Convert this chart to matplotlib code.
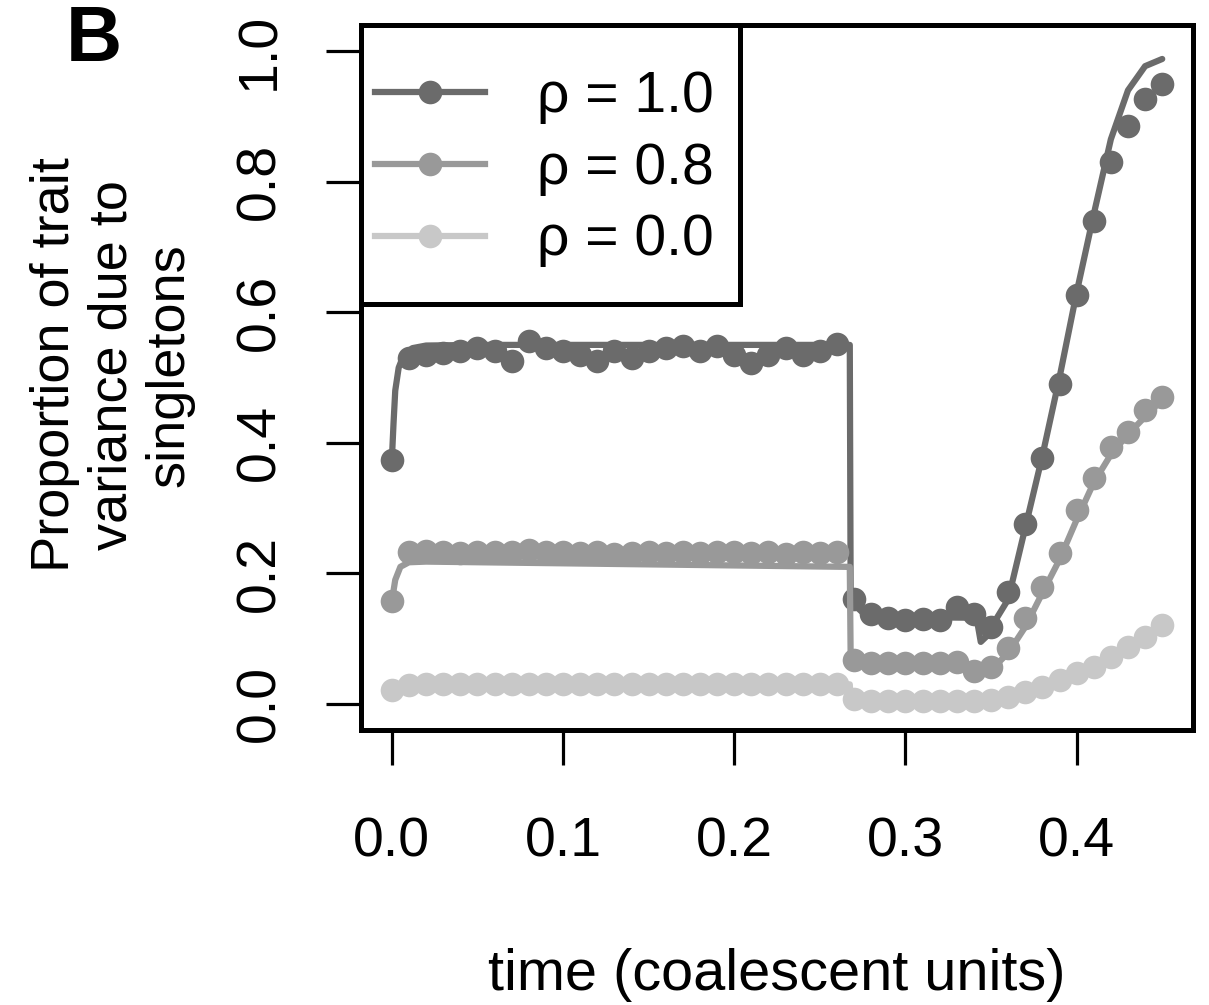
import matplotlib
matplotlib.use("Agg")
import matplotlib.pyplot as plt
from matplotlib.lines import Line2D
from matplotlib.patches import Rectangle

plt.rcParams['font.family'] = ['Liberation Sans', 'DejaVu Sans']

# simulation time points (coalescent units)
t_points = [0.00, 0.01, 0.02, 0.03, 0.04, 0.05, 0.06, 0.07, 0.08, 0.09,
            0.10, 0.11, 0.12, 0.13, 0.14, 0.15, 0.16, 0.17, 0.18, 0.19,
            0.20, 0.21, 0.22, 0.23, 0.24, 0.25, 0.26, 0.27, 0.28, 0.29,
            0.30, 0.31, 0.32, 0.33, 0.34, 0.35, 0.36, 0.37, 0.38, 0.39,
            0.40, 0.41, 0.42, 0.43, 0.44, 0.45]

# simulated proportions (dots)
sim_rho10 = [0.373, 0.530, 0.535, 0.538, 0.540, 0.545, 0.540, 0.525, 0.556, 0.545,
             0.540, 0.535, 0.525, 0.540, 0.530, 0.540, 0.545, 0.549, 0.540, 0.548,
             0.535, 0.522, 0.535, 0.545, 0.535, 0.540, 0.552, 0.160, 0.137, 0.132,
             0.128, 0.130, 0.128, 0.148, 0.138, 0.118, 0.171, 0.275, 0.376, 0.490,
             0.627, 0.740, 0.830, 0.885, 0.926, 0.949]
sim_rho08 = [0.157, 0.232, 0.234, 0.232, 0.231, 0.232, 0.233, 0.232, 0.236, 0.233,
             0.232, 0.231, 0.232, 0.230, 0.231, 0.232, 0.231, 0.232, 0.231, 0.232,
             0.233, 0.231, 0.232, 0.230, 0.232, 0.231, 0.233, 0.067, 0.063, 0.062,
             0.063, 0.062, 0.063, 0.064, 0.050, 0.057, 0.086, 0.132, 0.179, 0.231,
             0.297, 0.346, 0.394, 0.417, 0.450, 0.470]
sim_rho00 = [0.021, 0.029, 0.030, 0.030, 0.030, 0.030, 0.030, 0.030, 0.030, 0.030,
             0.030, 0.030, 0.030, 0.030, 0.030, 0.030, 0.030, 0.030, 0.030, 0.030,
             0.030, 0.030, 0.030, 0.030, 0.030, 0.030, 0.031, 0.008, 0.005, 0.005,
             0.005, 0.005, 0.005, 0.005, 0.005, 0.006, 0.011, 0.018, 0.026, 0.037,
             0.047, 0.057, 0.072, 0.087, 0.102, 0.121]

# theoretical curves (lines)
t_th10 = [0.0, 0.001, 0.002, 0.004, 0.007, 0.012, 0.02, 0.05, 0.265, 0.2675,
          0.268, 0.27, 0.275, 0.285, 0.30, 0.34, 0.342, 0.344, 0.348, 0.353,
          0.36, 0.37, 0.38, 0.39, 0.40, 0.41, 0.42, 0.43, 0.44, 0.45]
th_rho10 = [0.373, 0.43, 0.48, 0.515, 0.535, 0.545, 0.549, 0.550, 0.550, 0.550,
            0.17, 0.152, 0.140, 0.135, 0.133, 0.132, 0.125, 0.095, 0.105, 0.13,
            0.16, 0.27, 0.38, 0.50, 0.63, 0.75, 0.865, 0.94, 0.977, 0.988]
t_th08 = [0.0, 0.002, 0.005, 0.01, 0.02, 0.265, 0.2675, 0.268, 0.27, 0.34,
          0.345, 0.35, 0.36, 0.37, 0.38, 0.39, 0.40, 0.41, 0.42, 0.43, 0.44, 0.45]
th_rho08 = [0.157, 0.19, 0.21, 0.217, 0.218, 0.210, 0.210, 0.075, 0.063, 0.060,
            0.050, 0.052, 0.078, 0.118, 0.170, 0.221, 0.282, 0.339, 0.382, 0.413,
            0.440, 0.466]
t_th00 = [0.0, 0.005, 0.01, 0.2675, 0.268, 0.35, 0.36, 0.37, 0.38, 0.39,
          0.40, 0.41, 0.42, 0.43, 0.44, 0.45]
th_rho00 = [0.021, 0.028, 0.030, 0.030, 0.005, 0.006, 0.010, 0.017, 0.025, 0.036,
            0.046, 0.057, 0.071, 0.086, 0.102, 0.120]

labels = ["\u03c1 = 1.0", "\u03c1 = 0.8", "\u03c1 = 0.0"]
colors = ["#6b6b6b", "#999999", "#c8c8c8"]

fig = plt.figure(figsize=(12.09, 10.05), dpi=100)
ax = fig.add_axes([0.2986, 0.2736, 0.6882, 0.7015])

series = [(t_th10, th_rho10, sim_rho10), (t_th08, th_rho08, sim_rho08),
          (t_th00, th_rho00, sim_rho00)]
for (tt, th, sim), c in zip(series, colors):
    ax.plot(t_points, sim, 'o', color=c, ms=17, mec='none')
    ax.plot(tt, th, '-', color=c, lw=4.5, solid_capstyle='round')

ax.set_xlim(-0.018, 0.468)
ax.set_ylim(-0.04, 1.04)
ax.set_xticks([0.0, 0.1, 0.2, 0.3, 0.4], labels=["0.0", "0.1", "0.2", "0.3", "0.4"])
ax.set_yticks([0.0, 0.2, 0.4, 0.6, 0.8, 1.0],
              labels=["0.0", "0.2", "0.4", "0.6", "0.8", "1.0"],
              rotation=90, va='center')
ax.tick_params(axis='both', direction='out', length=25, width=2.3,
               labelsize=40, color='black')
ax.tick_params(axis='x', pad=37)
ax.tick_params(axis='y', pad=29)
for s in ax.spines.values():
    s.set_linewidth(3.6)

# legend box
ax.add_patch(Rectangle((0, 0.6043), 0.4555, 0.3957, transform=ax.transAxes,
                       fill=False, lw=3.6, ec='black', clip_on=False, zorder=5))
handles = [Line2D([], [], color=c, lw=4.5, marker='o', ms=17, mec='none')
           for c in colors]
ax.legend(handles, labels, loc='upper left', bbox_to_anchor=(0.0168, 0.936),
          frameon=False, fontsize=41, borderpad=0, borderaxespad=0,
          handlelength=1.93, handletextpad=0.91, labelspacing=0.31, numpoints=1)

ax.set_xlabel("time (coalescent units)", fontsize=41.5)
ax.xaxis.set_label_coords(0.5, -0.3475)
ax.xaxis.label.set_va('center')

fig.text(0.093, 0.637, "Proportion of trait\nvariance due to\nsingletons",
         rotation=90, ha='center', va='center', fontsize=39,
         multialignment='center', linespacing=1.18)
fig.text(0.054, 0.996, "B", fontsize=56, fontweight='bold', ha='left', va='top')

fig.savefig("out.png", dpi=100)
